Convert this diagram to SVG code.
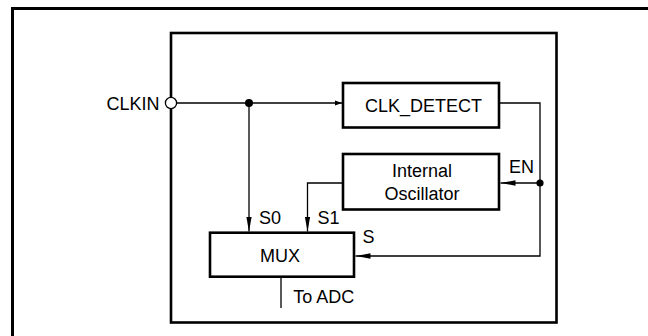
<svg xmlns="http://www.w3.org/2000/svg" width="648" height="336" viewBox="0 0 648 336">
<style>
.box{fill:#fff;stroke:#000;stroke-width:2.6}
.frame{fill:none;stroke:#000;stroke-width:3}
.wire{fill:none;stroke:#000;stroke-width:1.3}
.t{font-family:"Liberation Sans",Arial,Helvetica,sans-serif;font-size:18px;fill:#000}
.m{text-anchor:middle}
.e{text-anchor:end}
</style>
<defs>
<marker id="arr" viewBox="0 0 15 6" markerUnits="userSpaceOnUse" markerWidth="15" markerHeight="6" refX="15" refY="3" orient="auto">
<path d="M0,0.3 L15,3 L0,5.7 Z" fill="#000"/>
</marker>
<marker id="arrs" viewBox="0 0 7 6" markerUnits="userSpaceOnUse" markerWidth="7" markerHeight="6" refX="7" refY="3" orient="auto">
<path d="M0,0.5 L7,3 L0,5.5 Z" fill="#000"/>
</marker>
</defs>
<rect width="648" height="336" fill="#fff"/>
<path class="frame" d="M12.5,336 V8.5 H648"/>
<g id="chip">
<rect class="frame" x="171" y="33" width="385.5" height="289.5" style="stroke-width:2.6"/>
</g>
<g id="connectors">
<line class="wire" x1="176.5" y1="103" x2="342" y2="103" marker-end="url(#arrs)"/>
<line class="wire" x1="249" y1="103" x2="249" y2="231.5" marker-end="url(#arr)"/>
<polyline class="wire" points="499,103 540,103 540,256 355.5,256" marker-end="url(#arr)"/>
<line class="wire" x1="540" y1="183" x2="500.5" y2="183" marker-end="url(#arr)"/>
<polyline class="wire" points="343,183 307.5,183 307.5,231.5" marker-end="url(#arr)"/>
<line class="wire" x1="281" y1="277" x2="281" y2="308"/>
<circle cx="249" cy="103" r="4" fill="#000"/>
<circle cx="540" cy="183" r="3.6" fill="#000"/>
<text class="t" x="509" y="173.3">EN</text>
<text class="t" x="259" y="224.3">S0</text>
<text class="t" x="317.5" y="224.3">S1</text>
<text class="t" x="362.5" y="243.3">S</text>
<text class="t" x="293.3" y="302.7">To ADC</text>
</g>
<g id="clkin">
<circle cx="171" cy="103" r="5.6" fill="#fff" stroke="#000" stroke-width="1.3"/>
<text class="t e" x="159.5" y="110.3">CLKIN</text>
</g>
<g id="clk_detect">
<rect class="box" x="343" y="83" width="156" height="44.5"/>
<text class="t" x="365" y="112.3">CLK_DETECT</text>
</g>
<g id="oscillator">
<rect class="box" x="343" y="154" width="156" height="55.5"/>
<text class="t m" x="422" y="176.7">Internal</text>
<text class="t m" x="422" y="200">Oscillator</text>
</g>
<g id="mux">
<rect class="box" x="210" y="232.7" width="144" height="44"/>
<text class="t m" x="280" y="261.7">MUX</text>
</g>
</svg>
